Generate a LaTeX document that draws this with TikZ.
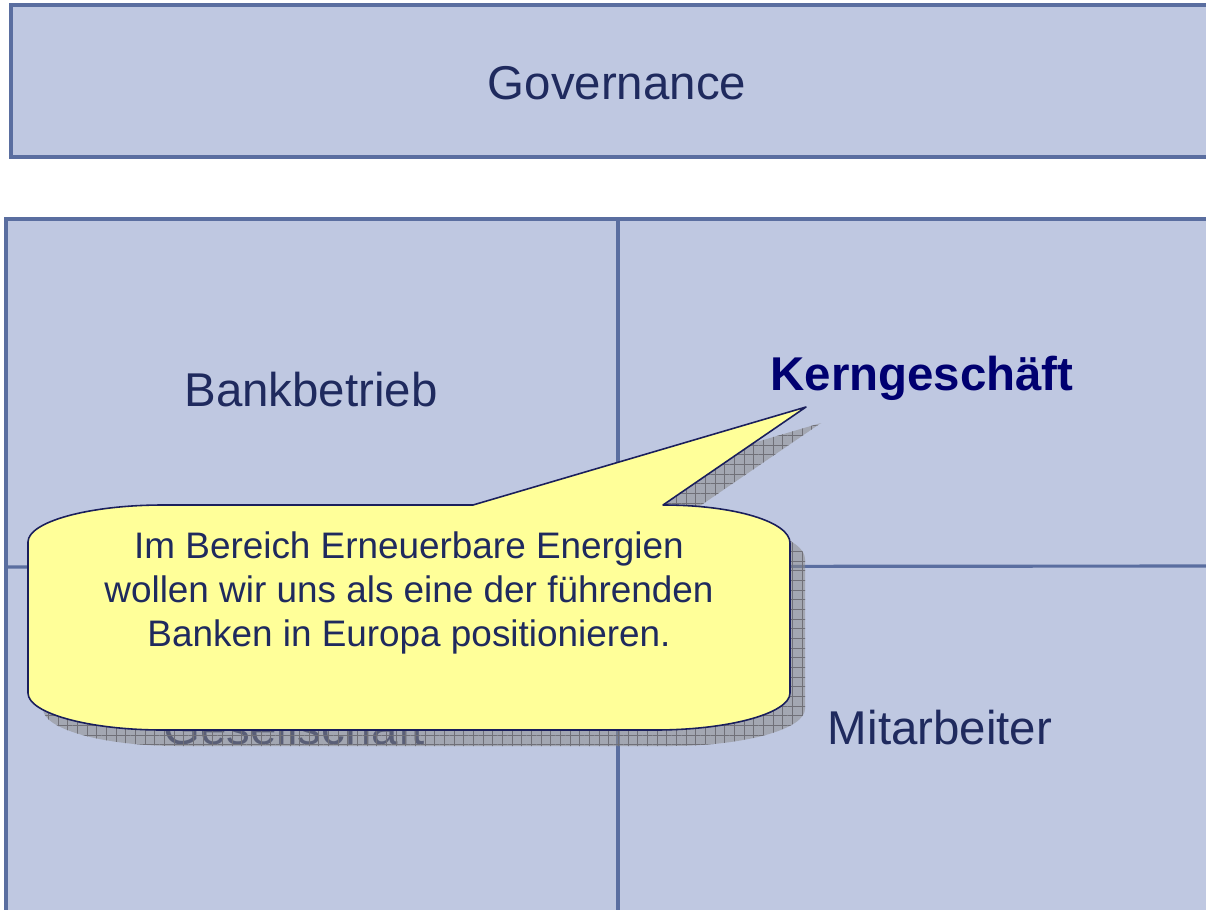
\documentclass[tikz,border=0pt]{standalone}
\usepackage{fontspec}
\setmainfont{Liberation Sans}
\usetikzlibrary{patterns.meta}
\definecolor{cellblue}{HTML}{BFC8E1}
\definecolor{lineblue}{HTML}{5A6EA0}
\definecolor{notefill}{HTML}{FFFF99}
\definecolor{noteline}{HTML}{1A1F5C}
\definecolor{labelblue}{HTML}{1F2A5E}
\definecolor{keyblue}{HTML}{000070}
\definecolor{shadowgray}{HTML}{8C8C8C}
\definecolor{shadowline}{HTML}{707078}
\begin{document}
\begin{tikzpicture}[x=0.02cm,y=-0.02cm,
  cell/.style={fill=cellblue,draw=lineblue,line width=2pt},
  divider/.style={draw=lineblue,line width=1.8pt},
  celltext/.style={text=labelblue,font=\fontsize{27}{32}\selectfont},
  notetext/.style={text=labelblue,align=center,font=\fontsize{21}{25}\selectfont},
  noteshadow/.style={fill=shadowgray,fill opacity=0.55,postaction={pattern={Hatch[angle=0,distance=5.5pt,line width=0.45pt]},pattern color=shadowline,fill opacity=0.6}},
  notebody/.style={fill=notefill,draw=noteline,line width=0.9pt,line join=round}]
\clip (0,0) rectangle (1206,909);
\fill[white] (0,0) rectangle (1206,909);
% governance bar
\draw[cell] (11,5) rectangle (1230,157);
\node[celltext] (gov) at (617,83) {Governance};
% four fields
\draw[cell] (6,219) rectangle (1230,930);
\draw[divider] (618,219) -- (618,930);
\draw[divider] (6,567) -- (1230,566);
\node[celltext] (bank) at (311,390) {Bankbetrieb};
\node[celltext,text=keyblue,font=\fontsize{27}{32}\selectfont\bfseries] (kern) at (922,378) {Kerngeschäft};
\node[celltext] (ges) at (294,728) {Gesellschaft};
\node[celltext] (mit) at (940,728) {Mitarbeiter};
% callout with shadow
\def\notepath{(28,542) .. controls (28,522) and (88,505) .. (163,505) -- (473,505) -- (806,407) -- (663,505)
  .. controls (735,505) and (790,522) .. (790,543) -- (790,693) .. controls (790,713) and (730,730) .. (655,730)
  -- (163,730) .. controls (88,730) and (28,713) .. (28,693) -- cycle}
\path[noteshadow,shift={(15,16)}] \notepath;
\path[notebody] \notepath;
\node[notetext] (note) at (409,593) {Im Bereich Erneuerbare Energien\\wollen wir uns als eine der führenden\\Banken in Europa positionieren.};
\end{tikzpicture}
\end{document}
